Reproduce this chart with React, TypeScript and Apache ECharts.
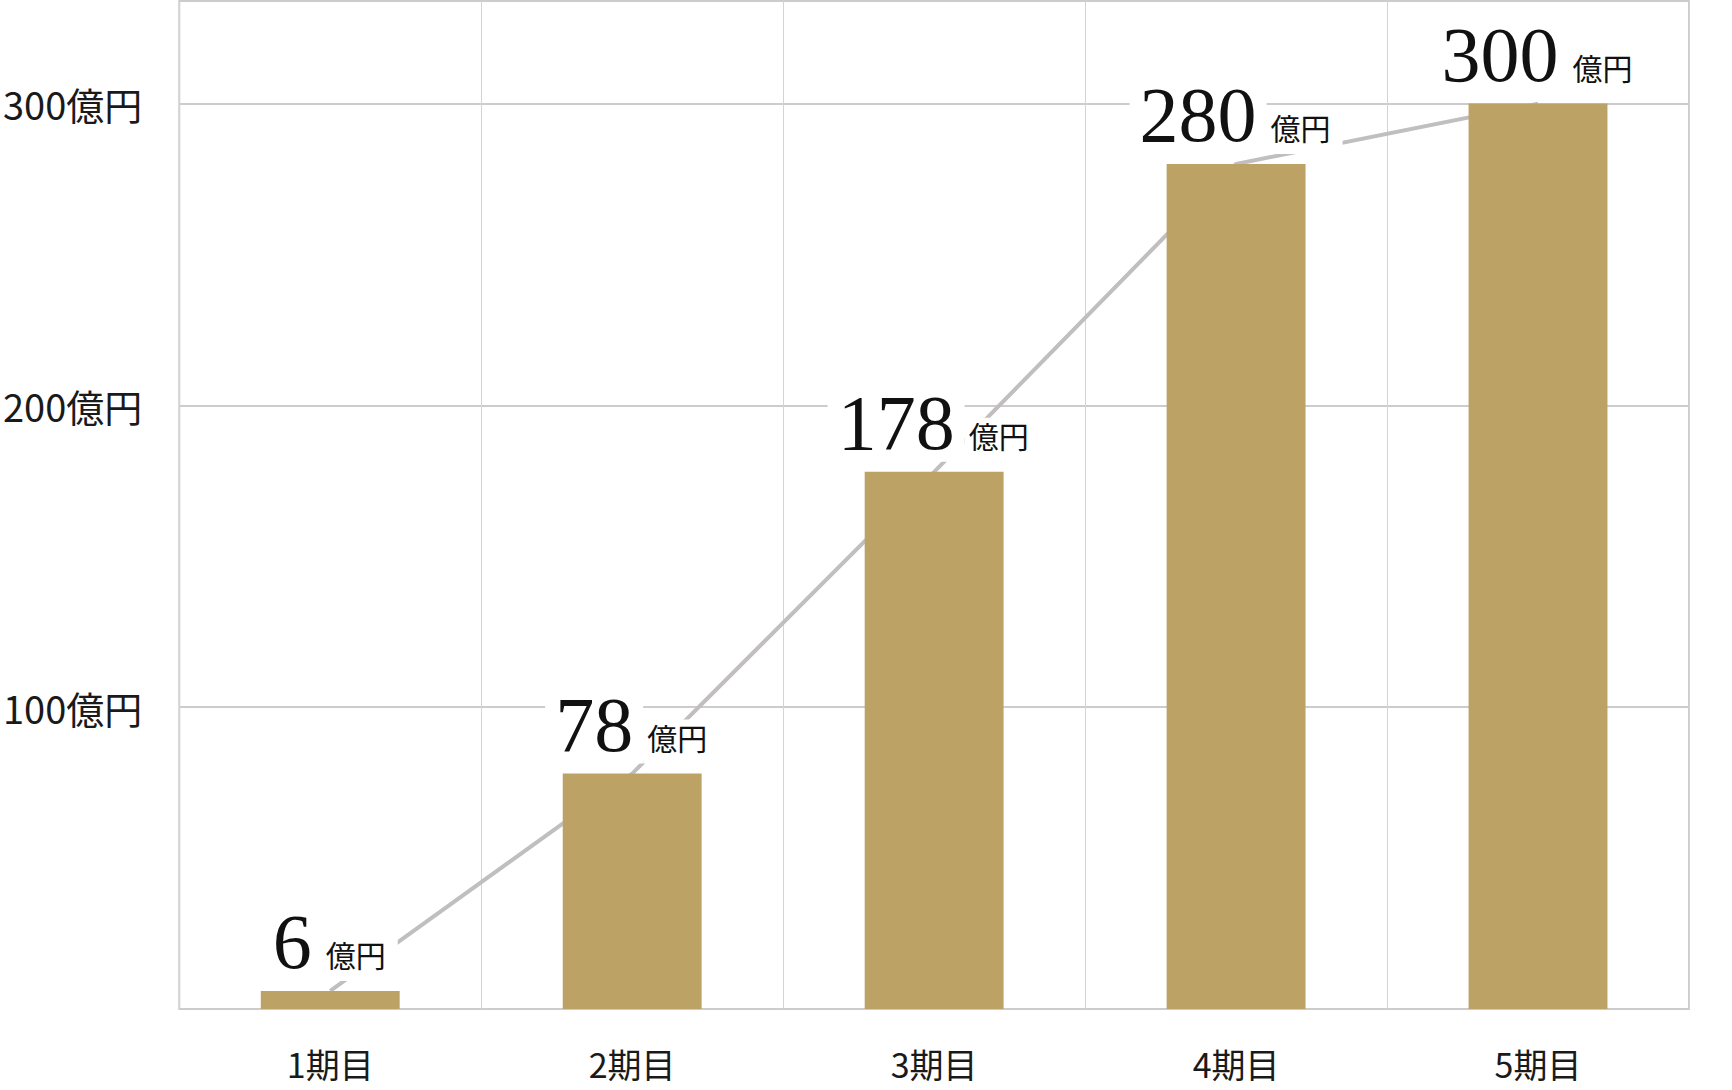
import React, { useEffect, useRef } from "react";
import * as echarts from "echarts";

const categories = ["1期目", "2期目", "3期目", "4期目", "5期目"];
const salesValues = [6, 78, 178, 280, 300];
const yTicks = [100, 200, 300];
const unit = "億円";

export default function App() {
  const ref = useRef<HTMLDivElement>(null);
  useEffect(() => {
    if (!ref.current) return;
    const chart = echarts.init(ref.current, null, { renderer: "svg" });
    const sans = "'Noto Sans CJK JP', 'Noto Sans', sans-serif";
    chart.setOption({
      animation: false,
      backgroundColor: "#ffffff",
      grid: {
        left: 179,
        right: 43,
        top: 1,
        bottom: 81,
        show: true,
        borderColor: "#cccccc",
        borderWidth: 2,
        containLabel: false,
      },
      xAxis: {
        type: "category",
        data: categories,
        boundaryGap: true,
        axisLine: { show: false },
        axisTick: { show: false },
        splitLine: { show: true, lineStyle: { color: "#d4d4d4", width: 1 } },
        axisLabel: {
          margin: 36,
          fontFamily: sans,
          fontSize: 34,
          lineHeight: 36,
          color: "#1a1a1a",
        },
      },
      yAxis: {
        type: "value",
        min: 0,
        max: 334,
        interval: 100,
        axisLine: { show: false },
        axisTick: { show: false },
        splitLine: { show: true, lineStyle: { color: "#cccccc", width: 2 } },
        axisLabel: {
          margin: 37,
          fontFamily: sans,
          fontSize: 38,
          color: "#1a1a1a",
          formatter: (v: number) => (yTicks.includes(v) ? `${v}${unit}` : ""),
        },
      },
      series: [
        {
          type: "line",
          data: salesValues,
          z: 1,
          symbol: "none",
          lineStyle: { color: "#c0bebe", width: 4 },
          silent: true,
        },
        {
          type: "bar",
          data: salesValues,
          z: 2,
          barWidth: "46%",
          itemStyle: { color: "#bda266" },
          label: {
            show: true,
            position: "top",
            distance: 10,
            formatter: (p: any) => `{n|${p.value}}{u|${unit}}`,
            rich: {
              n: {
                fontFamily: "'Liberation Serif', serif",
                fontSize: 78,
                lineHeight: 70,
                color: "#111111",
                backgroundColor: "#ffffff",
                padding: [8, 10, 0, 10],
                verticalAlign: "bottom",
              },
              u: {
                fontFamily: sans,
                fontSize: 30,
                lineHeight: 32,
                color: "#111111",
                backgroundColor: "#ffffff",
                padding: [2, 12, 12, 4],
                verticalAlign: "bottom",
              },
            },
          },
        },
      ],
    });
    return () => chart.dispose();
  }, []);
  return (
    <div
      ref={ref}
      style={{ position: "fixed", left: 0, top: 0, width: 1732, height: 1090 }}
    />
  );
}
